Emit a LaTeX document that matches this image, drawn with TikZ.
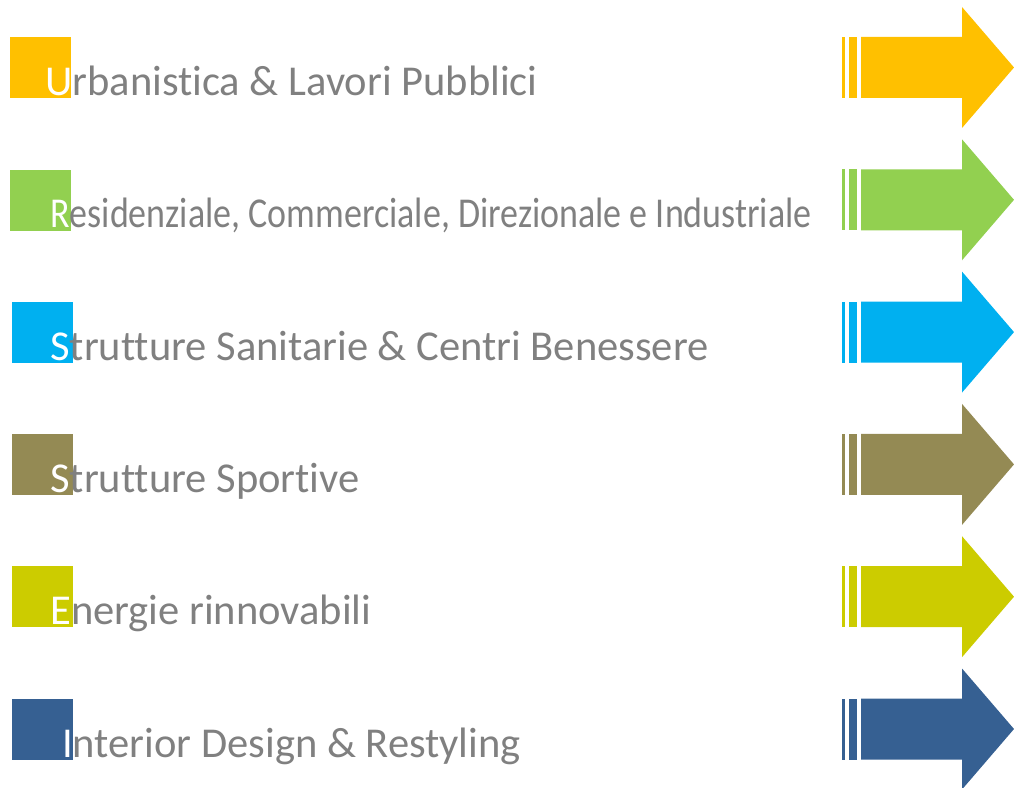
\documentclass[tikz,border=0pt]{standalone}
\usepackage{fontspec}
\setmainfont[Ligatures={NoCommon,NoRequired,NoContextual}, RawFeature={-liga;-clig;-dlig}]{Carlito}
\usepackage{graphicx}
\definecolor{cOrange}{HTML}{FFC000}
\definecolor{cGreen}{HTML}{92D050}
\definecolor{cBlue}{HTML}{00B0F0}
\definecolor{cOlive}{HTML}{948A54}
\definecolor{cLime}{HTML}{CCCC00}
\definecolor{cNavy}{HTML}{366092}
\definecolor{tGray}{HTML}{808080}
\tikzset{
  label text/.style={anchor=base west, inner sep=0pt, text=tGray, font=\fontsize{31.9}{36}\selectfont},
  sq/.style={fill=#1, draw=none, inner sep=0pt, minimum width=61*0.75pt, minimum height=61*0.75pt, anchor=north west},
}
\newcommand\myrow[6]{%
  \pgfmathsetmacro\yt{37+132.3*#1}%
  \node[sq=#2] (sq#1) at (#3,\yt) {};
  \fill[#2] (842,\yt) rectangle (845,\yt+61);
  \fill[#2] (849,\yt) rectangle (857,\yt+61);
  \fill[#2] (861,\yt) -- (962,\yt) -- (962,\yt-30) -- (1014,\yt+30.5) -- (962,\yt+91) -- (962,\yt+61) -- (861,\yt+61) -- cycle;
  \node[label text] (t#1) at (#4,\yt+58.5) {\textcolor{white}{#5}#6};
}
\begin{document}
\begin{tikzpicture}[x=0.75pt,y=-0.75pt]
\useasboundingbox (0,0) rectangle (1014,788);
\myrow{0}{cOrange}{10}{45}{U}{rbanistica \& Lavori Pubblici}
\pgfmathsetmacro\yt{37+132.3}
\node[sq=cGreen] (sq1) at (10,\yt) {};
\fill[cGreen] (842,\yt) rectangle (845,\yt+61);
\fill[cGreen] (849,\yt) rectangle (857,\yt+61);
\fill[cGreen] (861,\yt) -- (962,\yt) -- (962,\yt-30) -- (1014,\yt+30.5) -- (962,\yt+91) -- (962,\yt+61) -- (861,\yt+61) -- cycle;
\node[label text] (t1) at (50,\yt+58.5) {\resizebox{571pt}{\height}{\textcolor{white}{R}esidenziale, Commerciale, Direzionale e Industriale}};
\myrow{2}{cBlue}{12}{50}{S}{trutture Sanitarie \& Centri Benessere}
\myrow{3}{cOlive}{12}{50}{S}{trutture Sportive}
\myrow{4}{cLime}{12}{50}{E}{nergie rinnovabili}
\myrow{5}{cNavy}{12}{62}{I}{nterior Design \& Restyling}
\end{tikzpicture}
\end{document}
